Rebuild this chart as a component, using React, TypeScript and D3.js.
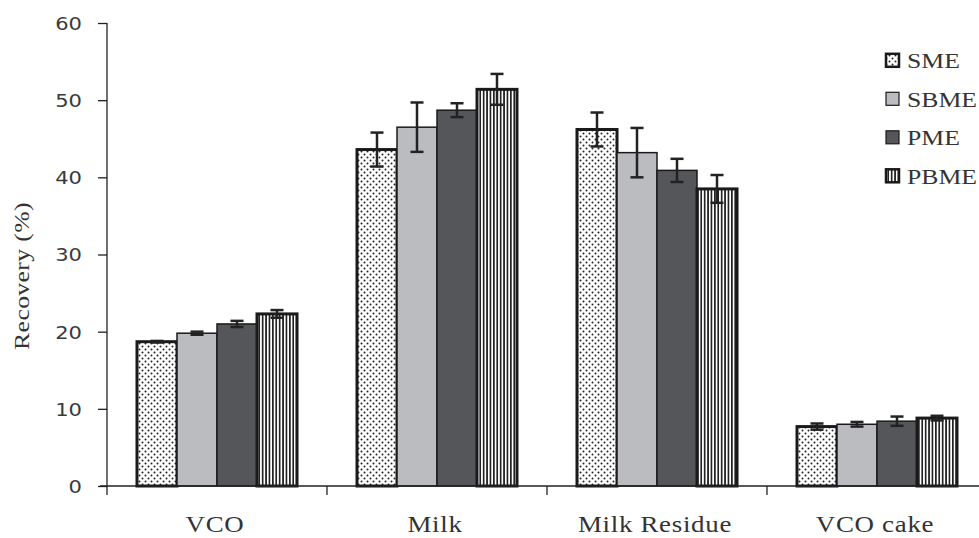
import React, { useEffect, useRef } from "react";
import * as d3 from "d3";

const categories = ["VCO", "Milk", "Milk Residue", "VCO cake"];
const series = ["SME", "SBME", "PME", "PBME"];
// values[series][category]
const values = [
  [18.7, 43.6, 46.2, 7.7],
  [19.8, 46.5, 43.2, 8.0],
  [21.0, 48.7, 40.9, 8.4],
  [22.3, 51.4, 38.5, 8.8],
];
const errors = [
  [0.1, 2.2, 2.2, 0.4],
  [0.2, 3.2, 3.2, 0.3],
  [0.4, 0.9, 1.5, 0.6],
  [0.5, 2.0, 1.8, 0.3],
];
const yTicks = [0, 10, 20, 30, 40, 50, 60];

const fills = ["url(#dots)", "#bbbcc0", "#555659", "url(#stripes)"];
const strokeW = [3, 1.5, 1.5, 3];
const sx = 1.17; // the original picture is stretched sideways

const App = () => {
  const svgRef = useRef<SVGSVGElement>(null);

  useEffect(() => {
    const svg = d3.select(svgRef.current);
    svg.selectAll("*").remove();

    const defs = svg.append("defs");
    const dots = defs.append("pattern")
      .attr("id", "dots")
      .attr("patternUnits", "userSpaceOnUse")
      .attr("width", 6)
      .attr("height", 6);
    dots.append("rect").attr("width", 6).attr("height", 6).attr("fill", "white");
    dots.append("circle").attr("cx", 1.5).attr("cy", 1.5).attr("r", 1).attr("fill", "#222");
    dots.append("circle").attr("cx", 4.5).attr("cy", 4.5).attr("r", 1).attr("fill", "#222");

    const stripes = defs.append("pattern")
      .attr("id", "stripes")
      .attr("patternUnits", "userSpaceOnUse")
      .attr("width", 3.4)
      .attr("height", 10);
    stripes.append("rect").attr("width", 3.4).attr("height", 10).attr("fill", "white");
    stripes.append("rect").attr("width", 1.7).attr("height", 10).attr("fill", "#222");

    const x = d3.scaleBand().domain(categories).range([107, 987]);
    const xs = d3.scaleBand().domain(series).range([30, x.bandwidth() - 30]);
    const y = d3.scaleLinear().domain([0, 60]).range([486, 23]);

    // bars
    series.forEach((s, si) => {
      svg.append("g")
        .selectAll("rect")
        .data(categories)
        .enter().append("rect")
        .attr("x", c => (x(c) as number) + (xs(s) as number))
        .attr("y", (c, ci) => y(values[si][ci]))
        .attr("width", xs.bandwidth())
        .attr("height", (c, ci) => y(0) - y(values[si][ci]))
        .attr("fill", fills[si])
        .attr("stroke", "#1a1a1a")
        .attr("stroke-width", strokeW[si]);
    });

    // error bars
    series.forEach((s, si) => {
      const g = svg.append("g").attr("stroke", "#222").attr("stroke-width", 2.5);
      categories.forEach((c, ci) => {
        const cx = (x(c) as number) + (xs(s) as number) + xs.bandwidth() / 2;
        const v = values[si][ci];
        const e = errors[si][ci];
        g.append("line").attr("x1", cx).attr("x2", cx).attr("y1", y(v + e)).attr("y2", y(v - e));
        g.append("line").attr("x1", cx - 6.5).attr("x2", cx + 6.5).attr("y1", y(v + e)).attr("y2", y(v + e));
        g.append("line").attr("x1", cx - 6.5).attr("x2", cx + 6.5).attr("y1", y(v - e)).attr("y2", y(v - e));
      });
    });

    // y axis
    const yAxis = svg.append("g")
      .attr("transform", "translate(107,0)")
      .call(d3.axisLeft(y).tickValues(yTicks).tickSize(9).tickFormat(d3.format("d")));
    yAxis.select(".domain").attr("stroke", "#222").attr("stroke-width", 1.3).attr("d", "M0,23V495");
    yAxis.selectAll(".tick line").attr("stroke", "#222").attr("stroke-width", 1.3);
    yAxis.selectAll(".tick text")
      .attr("x", -25 / sx)
      .attr("dy", "0.36em")
      .attr("transform", `scale(${sx},1)`)
      .attr("font-family", "DejaVu Sans, sans-serif")
      .attr("font-size", 18)
      .attr("fill", "#3a3a3a");

    // x axis
    svg.append("line")
      .attr("x1", 100).attr("x2", 987).attr("y1", y(0)).attr("y2", y(0))
      .attr("stroke", "#222").attr("stroke-width", 1.3);
    const bounds = categories.map(c => (x(c) as number) + x.bandwidth()).slice(0, -1);
    svg.append("g").selectAll("line")
      .data(bounds)
      .enter().append("line")
      .attr("x1", d => d).attr("x2", d => d)
      .attr("y1", y(0)).attr("y2", y(0) + 9)
      .attr("stroke", "#222").attr("stroke-width", 1.3);
    svg.append("g").selectAll("text")
      .data(categories)
      .enter().append("text")
      .attr("transform", c => `translate(${(x(c) as number) + x.bandwidth() / 2 - 2},532) scale(${sx},1)`)
      .attr("text-anchor", "middle")
      .attr("font-family", "Liberation Serif, serif")
      .attr("font-size", 23)
      .attr("letter-spacing", 0.6)
      .attr("fill", "#333")
      .text(c => c);

    // y label
    svg.append("text")
      .attr("transform", `translate(29,276) rotate(-90) scale(${sx},1)`)
      .attr("text-anchor", "middle")
      .attr("font-family", "Liberation Serif, serif")
      .attr("font-size", 22)
      .attr("letter-spacing", 0.3)
      .attr("fill", "#333")
      .text("Recovery (%)");

    // legend
    const legend = svg.append("g");
    series.forEach((s, si) => {
      const ly = 68.3 + si * 38.5;
      legend.append("rect")
        .attr("x", 886).attr("y", ly - 14.5).attr("width", 13).attr("height", 13)
        .attr("fill", fills[si])
        .attr("stroke", "#1a1a1a")
        .attr("stroke-width", si === 0 || si === 3 ? 2.5 : 1.2);
      legend.append("text")
        .attr("transform", `translate(907,${ly}) scale(${sx},1)`)
        .attr("font-family", "Liberation Serif, serif")
        .attr("font-size", 22)
        .attr("fill", "#333")
        .text(s);
    });
  }, []);

  return (
    <div style={{ position: "absolute", left: 0, top: 0, width: 979, height: 538, background: "white", overflow: "hidden" }}>
      <svg ref={svgRef} width={979} height={538} style={{ display: "block" }}></svg>
    </div>
  );
};

export default App;
